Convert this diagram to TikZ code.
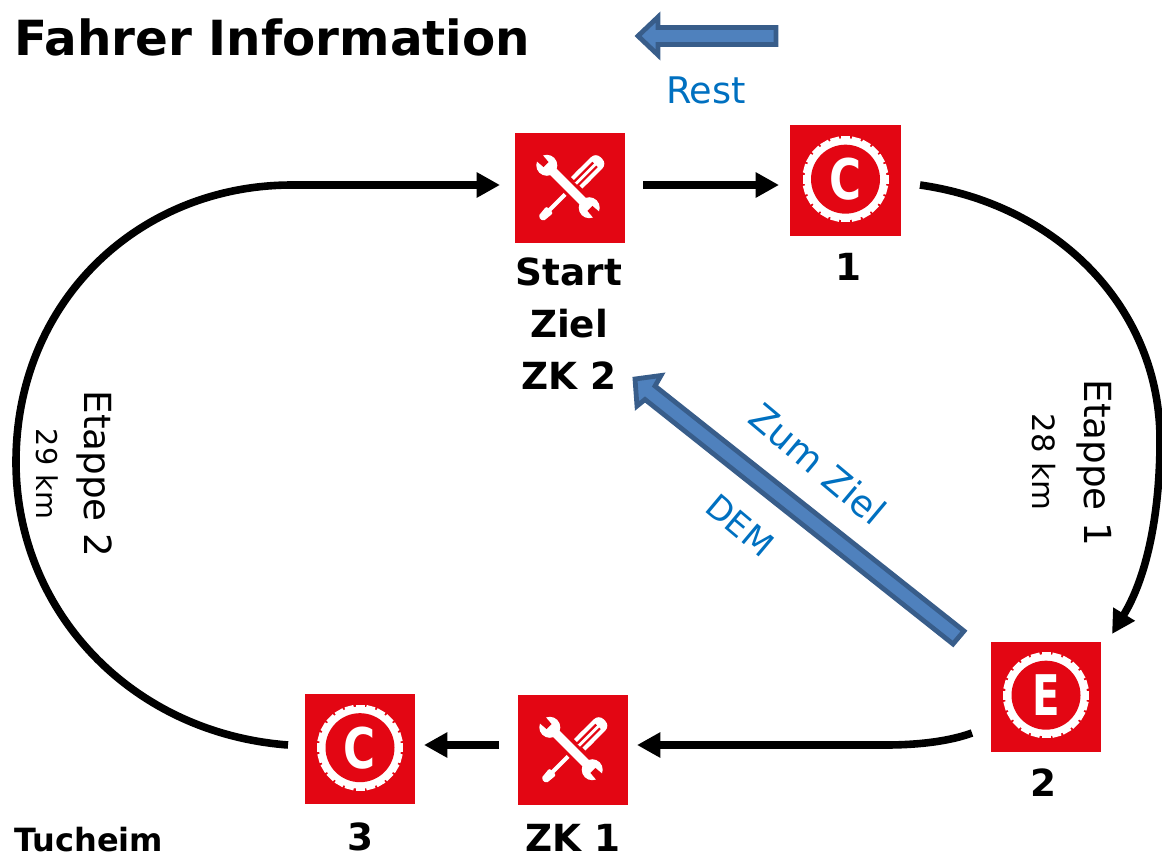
\documentclass[tikz,border=0pt]{standalone}
\usepackage{fontspec}
\setmainfont{DejaVu Sans}
\usetikzlibrary{arrows.meta}
\definecolor{iconred}{HTML}{E30613}
\definecolor{bluefill}{HTML}{4F81BD}
\definecolor{blueline}{HTML}{385D8A}
\definecolor{labelblue}{HTML}{0070C0}
\tikzset{
  x=0.75pt,y=-0.75pt,
  iconbox/.style={fill=iconred,draw=none,minimum width=82.5pt,minimum height=82.5pt,inner sep=0pt,outer sep=0pt},
  flow/.style={draw=black,line width=5.7pt,-{Triangle[length=17.5pt,width=18pt]}},
  bluearrow/.style={fill=bluefill,draw=blueline,line width=3.6pt,miter limit=6},
  bigtext/.style={font=\fontsize{28}{33}\selectfont\bfseries,align=center,inner sep=0pt},
  lab/.style={font=\fontsize{28}{33}\selectfont\bfseries,inner sep=0pt},
  etappe/.style={font=\fontsize{28}{30}\selectfont,inner sep=0pt},
  km/.style={font=\fontsize{23}{24}\selectfont,inner sep=0pt},
  bluelab/.style={font=\fontsize{27.5}{30}\selectfont,text=labelblue,inner sep=0pt},
  pics/tools/.style={code={
    \begin{scope}[shift={(1,1)},rotate=45]
      % screwdriver: local +x runs up and to the right on the page
      \fill[white] (-31,-2) rectangle (10,2);
      \fill[white,rounded corners=1.5pt] (-43,-3.5) -- (-30,-4.8) -- (-30,4.8) -- (-43,3.5) -- cycle;
      \fill[white,rounded corners=5pt] (8,-8) rectangle (43,8);
      \fill[white] (8,-8) rectangle (20,8);
      \fill[iconred] (7,-3.8) rectangle (34,-1.6);
      \fill[iconred] (7,1.6) rectangle (34,3.8);
    \end{scope}
    \begin{scope}[shift={(-2,-1)},rotate=-45]
      % wrench: local +x runs down and to the right on the page
      \fill[iconred] (-20,-7.5) rectangle (20,7.5);
      \fill[white] (-30,-4.5) rectangle (30,4.5);
      \fill[white] (-30,0) circle[radius=10.5];
      \fill[white] (30,0) circle[radius=10.5];
      \fill[iconred] (-43,-4.5) -- (-31,-3.5) -- (-31,3.5) -- (-43,4.5) -- cycle;
      \fill[iconred] (43,-4.5) -- (31,-3.5) -- (31,3.5) -- (43,4.5) -- cycle;
    \end{scope}
  }},
  pics/wheel/.style={code={
    \foreach \a in {0,15,...,345} {
      \fill[white,rotate=\a] (-4.5,-43) rectangle (4.5,-37);
    }
    \fill[white] (0,0) circle[radius=41];
    \fill[iconred] (0,0) circle[radius=34.5];
    \node[text=white,inner sep=0pt,xscale=#1,font=\fontsize{42}{44}\selectfont\bfseries] at (0,0) {\tikzpictext};
  }},
}
\begin{document}
\begin{tikzpicture}
\useasboundingbox (0,0) rectangle (1162,857);

% icons
\node[iconbox] (start) at (570,187.5) {};
\node[iconbox,minimum width=83pt,minimum height=83pt] (one) at (845.5,180.5) {};
\node[iconbox] (two) at (1046,696.5) {};
\node[iconbox] (zk) at (573,749.5) {};
\node[iconbox,minimum width=83pt,minimum height=83pt] (three) at (360,749) {};
\pic at (start) {tools};
\pic at (zk) {tools};
\pic[pic text=C] at ([yshift=1pt]one) {wheel=0.78};
\pic[pic text=C] at ([yshift=1pt]three) {wheel=0.78};
\pic[pic text=E] at ([yshift=1pt]two) {wheel=0.72};

% free ends of the connectors
\coordinate (a1) at (288,745);
\coordinate (a2) at (500,185);
\coordinate (b1) at (643,185);
\coordinate (b2) at (779,185);
\coordinate (c1) at (920,185);
\coordinate (c2) at (1112,634);
\coordinate (d1) at (972,733);
\coordinate (d2) at (637,745);
\coordinate (e1) at (499,745);
\coordinate (e2) at (424,745);

\draw[flow] (a1) .. controls (130,733) and (16,610) .. (16,462)
  .. controls (16,300) and (140,185) .. (292,185) -- (a2);
\draw[flow] (b1) -- (b2);
\draw[flow] (c1) .. controls (1060,205) and (1160,310) .. (1160,440)
  .. controls (1160,510) and (1148,575) .. (c2);
\draw[flow] (d1) .. controls (950,741) and (920,745) .. (885,745) -- (d2);
\draw[flow] (e1) -- (e2);

% block arrows
\path[bluearrow] (638,36) -- (658,17) -- (658,27.5) -- (776,27.5) -- (776,44.5) -- (658,44.5) -- (658,55) -- cycle;
\path[bluearrow] (635,379) -- (661,375.5) -- (655,386) -- (964,631) -- (953,644) -- (645,399.5) -- (637,406) -- cycle;

% labels
\node[anchor=west,inner sep=0pt,font=\fontsize{36.3}{40}\selectfont\bfseries] (title) at (14,37) {Fahrer Information};
\node[bluelab] (rest) at (706,90) {Rest};
\node[bigtext] (startlab) at (569,272) {Start};
\node[bigtext] (ziellab) at (569,324) {Ziel};
\node[bigtext] (zklab) at (569,376) {ZK 2};
\node[lab] (l1) at (848,267) {1};
\node[lab] (l2) at (1043,783) {2};
\node[lab] (l3) at (360,837) {3};
\node[lab] (lzk) at (573,838) {ZK 1};
\node[inner sep=0pt,anchor=west,font=\fontsize{24}{26}\selectfont\bfseries] (tuch) at (14,840) {Tucheim};
\node[etappe,rotate=-90] (e1lab) at (1094,463) {Etappe 1};
\node[km,rotate=-90] (km1) at (1044,462) {28 km};
\node[etappe,rotate=-90] (e2lab) at (94,474) {Etappe 2};
\node[km,rotate=-90,font=\fontsize{21.5}{24}\selectfont] (km2) at (47,474) {29 km};
\node[bluelab,rotate=-40] (zum) at (818,464) {Zum Ziel};
\node[bluelab,rotate=-40,font=\fontsize{25}{28}\selectfont] (dem) at (740,525) {DEM};
\end{tikzpicture}
\end{document}
